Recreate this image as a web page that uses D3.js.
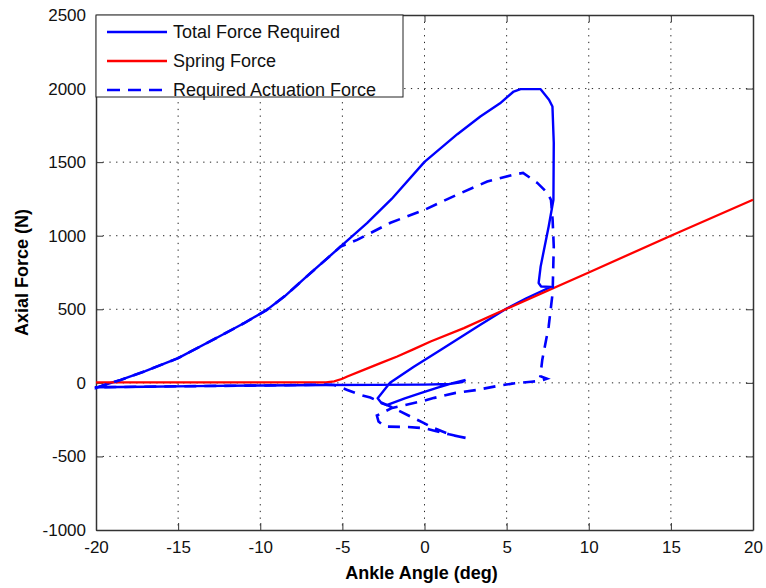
<HTML lang="en">
    <head>
        <meta charset="utf-8">
        <title>Axial force vs ankle angle</title>
        <script type="text/javascript" src="https://d3js.org/d3.v7.min.js"></script>
        <style type="text/CSS">
            body { margin: 0; background: white; }
            text { font-family: "Liberation Sans", Arial, sans-serif; }
        </style>
    </head>

    <body>
        <script type="text/javascript">
            // values
            var totalAngle = [2.5, 2.3, 1.5, 0, -3, -6, -10, -14, -17, -20, -20, -19.6, -18.5, -17, -15, -12.5, -11, -9.6, -8.5, -7, -5.1, -3.5, -2, 0, 2, 3.4, 4.6, 5.43, 5.85, 7.07, 7.58, 7.79, 7.87, 7.85, 7.56, 7.07, 6.95, 7.1, 7.7, 6.2, 5.0, 3.4, 1.0, -0.65, -2.1, -2.5, -2.85, -2.6, -2.3, -1.2, -0.24, 0.8, 1.77, 2.5];
            var totalForce = [20, 5, -8, -12, -14, -15, -18, -22, -26, -30, -34, -18, 20, 80, 168, 315, 405, 496, 590, 740, 927, 1085, 1250, 1502, 1690, 1810, 1900, 1980, 1996, 1996, 1924, 1878, 1630, 1244, 1063, 790, 679, 655, 652, 575, 505, 395, 225, 110, 0, -55, -105, -140, -152, -105, -70, -32, 0, 20];

            var springAngle = [-20, -6, -5.5, -5, -4.7, -3.7, -2.68, -1.66, -0.65, 0.37, 2.4, 4.63, 10, 15, 20];
            var springForce = [3, 3, 10, 28, 43, 88, 134, 179, 229, 281, 372, 485, 750, 1000, 1244];

            var actAngle = [2.5, 1.6, 0.4, -0.06, -0.85, -2.1, -3.3, -3.9, -4.7, -5.5, -6, -10, -14, -17, -20, -20, -19.6, -18.5, -17, -15, -12.5, -11, -9.6, -8.5, -7, -5.1, -4.1, -2.07, 0, 2, 3.82, 5.4, 6.0, 6.87, 7.48, 7.7, 7.8, 7.87, 7.8, 7.56, 7.17, 7.05, 7.45, 7.0, 6.5, 5.5, 4.5, 3.2, 1.9, 0.6, -0.24, -1.16, -1.97, -2.5, -2.9, -2.8, -2.4, -1.0, 0, 0.6, 1.5, 2.5];
            var actForce = [-374, -353, -300, -272, -229, -160, -100, -82, -48, -15, -12, -18, -22, -26, -30, -34, -18, 20, 80, 168, 315, 405, 496, 590, 740, 927, 972, 1088, 1176, 1280, 1368, 1414, 1427, 1359, 1291, 1244, 1108, 927, 611, 383, 156, 45, 28, 12, 8, -3, -20, -48, -68, -102, -127, -150, -170, -200, -222, -262, -297, -300, -308, -325, -350, -374];

            var xTicks = [-20, -15, -10, -5, 0, 5, 10, 15, 20];
            var yTicks = [-1000, -500, 0, 500, 1000, 1500, 2000, 2500];
            var legendNames = ["Total Force Required", "Spring Force", "Required Actuation Force"];

            var w = 766;
            var h = 588;
            var pL = 96, pR = 753, pT = 15, pB = 530;

            var svg = d3.select("body")
                        .append("svg")
                        .attr("width", w)
                        .attr("height", h);

            var x = d3.scaleLinear().domain([-20, 20]).range([pL, pR]);
            var y = d3.scaleLinear().domain([-1000, 2500]).range([pB, pT]);
            var plain = function(d){return String(d);};

            // dotted grid
            svg.selectAll("line.gx")
                .data(xTicks.slice(1, -1))
                .enter()
                .append("line")
                .attr("x1", function(d){return x(d);})
                .attr("x2", function(d){return x(d);})
                .attr("y1", pT)
                .attr("y2", pB)
                .attr("stroke", "#222")
                .attr("stroke-width", 1)
                .attr("stroke-dasharray", "1.3,5.4");

            svg.selectAll("line.gy")
                .data(yTicks.slice(1, -1))
                .enter()
                .append("line")
                .attr("y1", function(d){return y(d);})
                .attr("y2", function(d){return y(d);})
                .attr("x1", pL)
                .attr("x2", pR)
                .attr("stroke", "#222")
                .attr("stroke-width", 1)
                .attr("stroke-dasharray", "1.3,5.4");

            // axes with inward ticks on all four sides
            svg.append("g").attr("transform", "translate(0," + pB + ")")
                .call(d3.axisBottom(x).tickValues(xTicks).tickSizeInner(-7).tickSizeOuter(0).tickPadding(11).tickFormat(plain));
            svg.append("g").attr("transform", "translate(" + pL + ",0)")
                .call(d3.axisLeft(y).tickValues(yTicks).tickSizeInner(-7).tickSizeOuter(0).tickPadding(10).tickFormat(plain));
            svg.append("g").attr("transform", "translate(0," + pT + ")")
                .call(d3.axisTop(x).tickValues(xTicks).tickSizeInner(-7).tickSizeOuter(0).tickFormat(""));
            svg.append("g").attr("transform", "translate(" + pR + ",0)")
                .call(d3.axisRight(y).tickValues(yTicks).tickSizeInner(-7).tickSizeOuter(0).tickFormat(""));

            svg.selectAll(".domain").attr("stroke", "#333").attr("stroke-width", 1.5);
            svg.selectAll(".tick line").attr("stroke", "#333");
            svg.selectAll(".tick text")
                .attr("fill", "#111")
                .style("font-size", "17px")
                .style("font-family", "'Liberation Sans', Arial, sans-serif");

            var line = d3.line()
                .x(function(d){return x(d[0]);})
                .y(function(d){return y(d[1]);});

            svg.append("path")
                .attr("d", line(d3.zip(totalAngle, totalForce)))
                .attr("fill", "none")
                .attr("stroke", "#0000ff")
                .attr("stroke-width", 2.4)
                .attr("stroke-linejoin", "round");

            svg.append("path")
                .attr("d", line(d3.zip(springAngle, springForce)))
                .attr("fill", "none")
                .attr("stroke", "#ff0000")
                .attr("stroke-width", 2.3);

            svg.append("path")
                .attr("d", line(d3.zip(actAngle, actForce)))
                .attr("fill", "none")
                .attr("stroke", "#0000ff")
                .attr("stroke-width", 2.6)
                .attr("stroke-dasharray", "12,8");

            // legend
            var lg = svg.append("g");
            lg.append("rect")
                .attr("x", pL)
                .attr("y", pT)
                .attr("width", 403 - pL)
                .attr("height", 97 - pT)
                .attr("fill", "white")
                .attr("stroke", "#222")
                .attr("stroke-width", 1);

            var colors = ["#0000ff", "#ff0000", "#0000ff"];
            var dashes = [null, null, "13,8"];
            lg.selectAll("line.key")
                .data(legendNames)
                .enter()
                .append("line")
                .attr("x1", 107)
                .attr("x2", 167)
                .attr("y1", function(d, i){return 32 + i * 29;})
                .attr("y2", function(d, i){return 32 + i * 29;})
                .attr("stroke", function(d, i){return colors[i];})
                .attr("stroke-width", 2.6)
                .attr("stroke-dasharray", function(d, i){return dashes[i];});

            lg.selectAll("text")
                .data(legendNames)
                .enter()
                .append("text")
                .attr("x", 173)
                .attr("y", function(d, i){return 32 + i * 29;})
                .attr("dy", "0.36em")
                .style("font-size", "18px")
                .attr("fill", "#111")
                .text(function(d){return d;});

            // axis titles
            svg.append("text")
                .attr("x", (pL + pR) / 2 - 3)
                .attr("y", 579)
                .attr("text-anchor", "middle")
                .style("font-size", "18px")
                .style("font-weight", "bold")
                .text("Ankle Angle (deg)");

            svg.append("text")
                .attr("transform", "translate(28," + ((pT + pB) / 2) + ") rotate(-90)")
                .attr("text-anchor", "middle")
                .style("font-size", "18px")
                .style("font-weight", "bold")
                .text("Axial Force (N)");
        </script>
    </body>

</HTML>
